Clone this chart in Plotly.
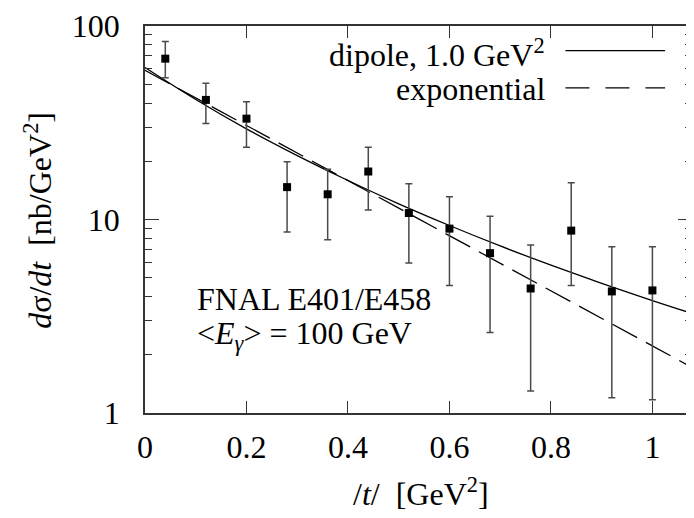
import plotly.graph_objects as go

# ---- data ----
t_data = [0.04, 0.12, 0.20, 0.28, 0.36, 0.44, 0.52, 0.60, 0.68, 0.76, 0.84, 0.92, 1.00]
y_data = [67.8, 41.5, 33.2, 14.7, 13.5, 17.7, 10.8, 8.97, 6.70, 4.40, 8.76, 4.25, 4.30]
y_upper = [83.2, 50.6, 40.6, 19.9, 18.2, 23.6, 15.3, 13.1, 10.4, 7.38, 15.5, 7.23, 7.23]
y_lower = [54.0, 31.3, 23.6, 8.62, 7.85, 11.2, 5.96, 4.56, 2.61, 1.30, 4.56, 1.20, 1.17]

t_curve = [0.0, 0.1, 0.2, 0.3, 0.4, 0.5, 0.6, 0.7, 0.8, 0.9, 1.0, 1.078]
dipole_vals = [61.0, 41.7, 29.4, 21.4, 15.9, 12.05, 9.31, 7.30, 5.81, 4.68, 3.81, 3.27]
expo_vals = [59.0, 42.5, 30.6, 22.1, 15.9, 11.4, 8.25, 5.94, 4.28, 3.08, 2.22, 1.72]

x_ticks = [0, 0.2, 0.4, 0.6, 0.8, 1.0]
x_tick_labels = ["0", "0.2", "0.4", "0.6", "0.8", "1"]
y_ticks = [1, 10, 100]
y_tick_labels = ["1", "10", "100"]

err_plus = [u - y for u, y in zip(y_upper, y_data)]
err_minus = [y - l for y, l in zip(y_data, y_lower)]

FONT = "Liberation Serif, Times New Roman, serif"
FS = 32
AX = "#333333"

fig = go.Figure()

fig.add_trace(go.Scatter(
    x=t_curve, y=dipole_vals, mode="lines", line=dict(color="black", width=1.3, shape="spline"),
    showlegend=False, hoverinfo="skip"))
fig.add_trace(go.Scatter(
    x=t_curve, y=expo_vals, mode="lines", line=dict(color="black", width=1.3, dash="28px,10px"),
    showlegend=False, hoverinfo="skip"))
fig.add_trace(go.Scatter(
    x=t_data, y=y_data, mode="markers",
    marker=dict(symbol="square", size=8, color="black"),
    error_y=dict(type="data", symmetric=False, array=err_plus, arrayminus=err_minus,
                 color="#4a4a4a", thickness=1.5, width=3.5),
    showlegend=False))

# page body has an 8px margin: figure is 686x510 so plot area sits at window x 145..694, y 19..413
fig.update_layout(
    width=686, height=510,
    margin=dict(l=137, r=0, t=11, b=105),
    paper_bgcolor="white", plot_bgcolor="white",
    font=dict(family=FONT, size=FS, color="black"),
    showlegend=False,
)

fig.update_xaxes(
    range=[0, 1.078], tickvals=x_ticks, ticktext=x_tick_labels,
    ticks="inside", ticklen=12, tickwidth=1.3, tickcolor=AX,
    showline=True, linecolor=AX, linewidth=1.5, mirror="ticks",
    showgrid=False, zeroline=False, ticklabelstandoff=5, ticklabeloverflow="allow",
    tickfont=dict(family=FONT, size=FS, color="black"),
)
fig.update_yaxes(
    type="log", range=[0, 2], tickvals=y_ticks, ticktext=y_tick_labels,
    ticks="inside", ticklen=14, tickwidth=1.3, tickcolor=AX,
    minor=dict(ticks="inside", ticklen=7, tickwidth=1.3, tickcolor=AX,
               tickvals=[2, 3, 4, 5, 6, 7, 8, 9, 20, 30, 40, 50, 60, 70, 80, 90]),
    showline=True, linecolor=AX, linewidth=1.5, mirror="ticks",
    showgrid=False, zeroline=False, ticklabelstandoff=17, ticklabeloverflow="allow",
    tickfont=dict(family=FONT, size=FS, color="black"),
)

# window-pixel -> paper (plot-area) coordinates
L, R, T, B = 145, 694, 19, 413
def px(x): return (x - L) / (R - L)
def py(y): return (B - y) / (B - T)

ann = [
    dict(text="<i>d</i>σ/<i>dt</i>\u00a0\u00a0[nb/GeV<sup>2</sup>]", x=px(38), y=py(217), textangle=-90,
         xanchor="center", yanchor="middle"),
    dict(text="/<i>t</i>/\u00a0\u00a0[GeV<sup>2</sup>]", x=px(422), y=py(493),
         xanchor="center", yanchor="middle"),
    dict(text="dipole, 1.0 GeV<sup>2</sup>", x=px(548), y=py(46), xanchor="right", yanchor="middle"),
    dict(text="exponential", x=px(548), y=py(83), xanchor="right", yanchor="middle"),
    dict(text="FNAL E401/E458", x=px(195), y=py(297), xanchor="left", yanchor="middle"),
    dict(text="&lt;<i>E</i><sub><i>γ</i></sub>&gt; = 100 GeV", x=px(195), y=py(334),
         xanchor="left", yanchor="middle"),
]
for a in ann:
    a.update(xref="paper", yref="paper", showarrow=False,
             font=dict(family=FONT, size=FS, color="black"))
    fig.add_annotation(**a)

fig.add_shape(type="line", xref="paper", yref="paper", x0=px(567), x1=px(667), y0=py(44), y1=py(44),
              line=dict(color="black", width=1.3))
fig.add_shape(type="line", xref="paper", yref="paper", x0=px(567), x1=px(667), y0=py(82), y1=py(82),
              line=dict(color="black", width=1.3, dash="24px,16px"))

fig.write_html("out.html")
